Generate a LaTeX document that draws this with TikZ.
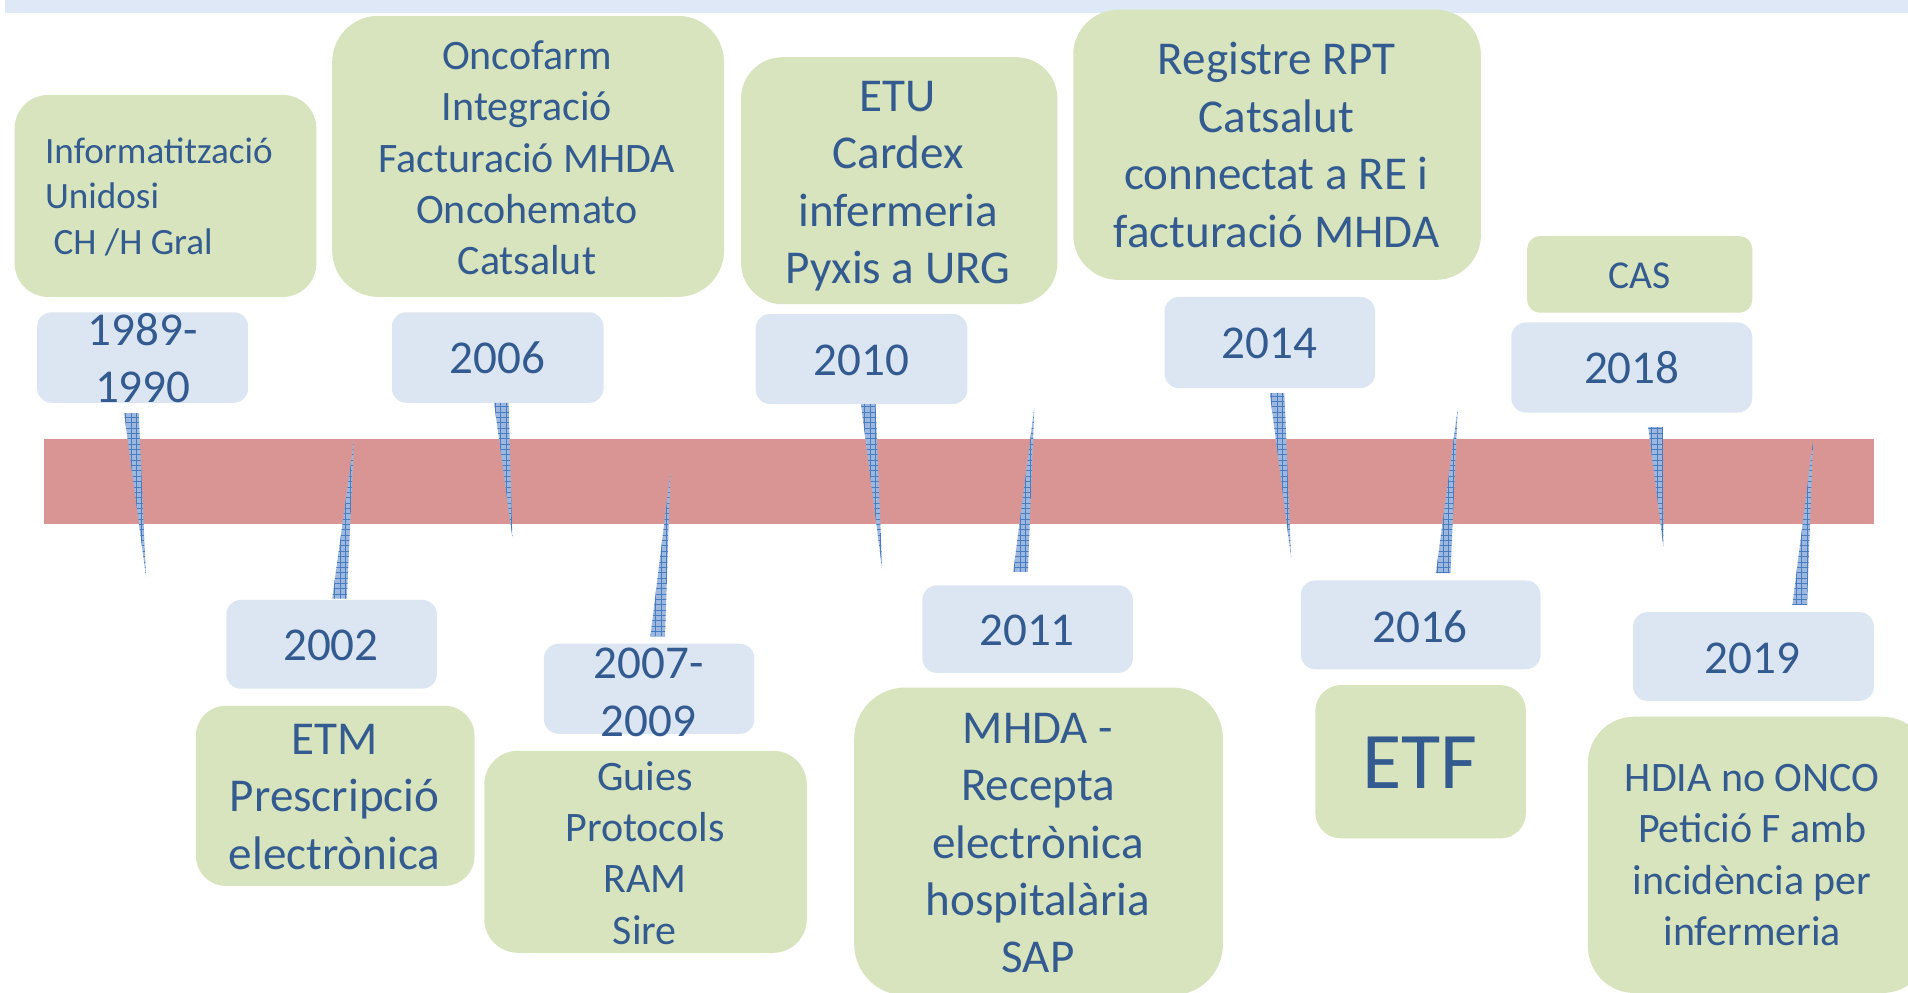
\documentclass[tikz,border=0pt]{standalone}
\usepackage{fontspec}
\setmainfont{Carlito}
\usetikzlibrary{patterns,fit,calc}
\definecolor{gfill}{HTML}{D7E4BD}
\definecolor{bfill}{HTML}{DCE6F2}
\definecolor{barc}{HTML}{D99594}
\definecolor{stripc}{HTML}{DFE8F6}
\definecolor{tcol}{HTML}{335B8F}
\definecolor{wfill}{HTML}{9DB8E0}
\definecolor{wline}{HTML}{4A7DBE}
\pgfdeclarepatternformonly{finegrid}{\pgfqpoint{-0.5pt}{-0.5pt}}{\pgfqpoint{2.5pt}{2.5pt}}{\pgfqpoint{2.2pt}{2.2pt}}{%
  \pgfsetlinewidth{0.35pt}
  \pgfpathmoveto{\pgfqpoint{0pt}{1.1pt}}\pgfpathlineto{\pgfqpoint{2.2pt}{1.1pt}}
  \pgfpathmoveto{\pgfqpoint{1.1pt}{0pt}}\pgfpathlineto{\pgfqpoint{1.1pt}{2.2pt}}
  \pgfusepath{stroke}}
\newcommand\tstr{\rule{0pt}{0.95em}}
\newcommand\fsYear{\fontsize{19.35pt}{23.6pt}\selectfont}
\newcommand\fsBig{\fontsize{19.35pt}{23.6pt}\selectfont}
\newcommand\fsMid{\fontsize{17.25pt}{21.05pt}\selectfont}
\newcommand\fsSmall{\fontsize{15.25pt}{18.6pt}\selectfont}
\newcommand\fsCas{\fontsize{16.25pt}{19.8pt}\selectfont}
\newcommand\fsEtf{\fontsize{33pt}{40pt}\selectfont}
\begin{document}
\begin{tikzpicture}[x=0.5pt,y=-0.5pt,
  gbox/.style={fill=gfill, draw=none, inner sep=0pt},
  bbox/.style={fill=bfill, draw=none, inner sep=0pt, rounded corners=6pt},
  txt/.style={text=tcol, inner sep=0pt, align=center, anchor=north},
  wedge/.style={preaction={fill=wfill}, pattern=finegrid, pattern color=wline}]
\useasboundingbox (0,0) rectangle (1568,816);
\begin{scope}
\clip (0,0) rectangle (1568,816);
% top strip and bar
\node[fill=stripc, inner sep=0pt, fit={(4,0) (1568,10.5)}] (strip) {};
\node[fill=barc, inner sep=0pt, fit={(36,361) (1540,430.6)}] (bar) {};

% green boxes
\node[gbox, rounded corners=13.8pt, fit={(12,78) (260,244)}] (g1) {};
\node[gbox, rounded corners=19pt, fit={(273,13) (595,244)}] (g2) {};
\node[gbox, rounded corners=17pt, fit={(609,47) (869,250)}] (g3) {};
\node[gbox, rounded corners=18.5pt, fit={(882,8) (1217,230)}] (g4) {};
\node[gbox, rounded corners=5.3pt, fit={(1255,194) (1440,257)}] (g5) {};
\node[gbox, rounded corners=12.3pt, fit={(161,580) (390,728)}] (g6) {};
\node[gbox, rounded corners=13.8pt, fit={(398,617) (663,783)}] (g7) {};
\node[gbox, rounded corners=21pt, fit={(702,565) (1005,818)}] (g8) {};
\node[gbox, rounded corners=10.5pt, fit={(1081,563) (1254,689)}] (g9) {};
\node[gbox, rounded corners=19pt, fit={(1305,589) (1585,816)}] (g10) {};

% blue year boxes
\node[bbox, fit={(30.5,256.6) (204,331)}] (b1) {};
\node[bbox, fit={(322,256.6) (496,331)}] (b2) {};
\node[bbox, fit={(621,258) (795,332)}] (b3) {};
\node[bbox, fit={(957,244) (1130,319)}] (b4) {};
\node[bbox, fit={(1242,265) (1440,339)}] (b5) {};
\node[bbox, fit={(186,493) (359,566)}] (b6) {};
\node[bbox, fit={(447,529) (620,603)}] (b7) {};
\node[bbox, fit={(758,481) (931,553)}] (b8) {};
\node[bbox, fit={(1069,477) (1266,550)}] (b9) {};
\node[bbox, fit={(1342,503) (1540,576)}] (b10) {};

% pointers
\foreach \n/\bx/\by/\tx/\ty in {1/108/339.5/120/474, 2/279/492/291/361, 3/412/331/421/441,
  4/540.5/523/551/388, 5/713.5/332/725/468, 6/838.7/470/850/335, 7/1049.5/323/1061/458,
  8/1186/471/1198/335, 9/1360.5/351/1367/449.5, 10/1479/497/1490/362} {
  \coordinate (wb\n) at (\bx,\by);
  \coordinate (wt\n) at (\tx,\ty);
  \path[wedge] ($(wb\n)+(-6,0)$) -- ($(wb\n)+(6,0)$) -- (wt\n) -- cycle;
}

% texts in green boxes
\node[txt, align=left, anchor=north west, font=\fsSmall] (t1) at (36.7,105.1)
  {\tstr Informatització\\Unidosi\\\hspace*{0.23em}CH /H Gral};
\node[txt, font=\fsMid] (t2) at (433,24)
  {\tstr Oncofarm\\Integració\\Facturació MHDA\\Oncohemato\\Catsalut};
\node[txt, font=\fsBig] (t3) at (738,54.3)
  {\tstr ETU\\Cardex\\infermeria\\Pyxis a URG};
\node[txt, font=\fsBig] (t4) at (1049,24.4)
  {\tstr Registre RPT\\Catsalut\\connectat a RE i\\facturació MHDA};
\node[txt, font=\fsCas] (t5) at (1347,205.9) {\tstr CAS};
\node[txt, font=\fsBig] (t6) at (275,582.6)
  {\tstr ETM\\Prescripció\\electrònica};
\node[txt, font=\fsMid] (t7) at (530,616.3)
  {\tstr Guies\\Protocols\\RAM\\Sire};
\node[txt, font=\fsBig] (t8) at (853,573.6)
  {\tstr MHDA -\\Recepta\\electrònica\\hospitalària\\SAP};
\node[txt, font=\fsEtf] (t9) at (1167,585) {\tstr ETF};
\node[txt, font=\fsMid] (t10) at (1440,617.3)
  {\tstr HDIA no ONCO\\Petició F amb\\incidència per\\infermeria};

% year texts
\node[txt, font=\fsYear] (y1) at (117.4,246.4) {\tstr 1989-\\1990};
\node[txt, font=\fsYear] (y2) at (409,270) {\tstr 2006};
\node[txt, font=\fsYear] (y3) at (707.7,271.6) {\tstr 2010};
\node[txt, font=\fsYear] (y4) at (1043,257.4) {\tstr 2014};
\node[txt, font=\fsYear] (y5) at (1341,278.1) {\tstr 2018};
\node[txt, font=\fsYear] (y6) at (272,505.6) {\tstr 2002};
\node[txt, font=\fsYear] (y7) at (533,520.6) {\tstr 2007-\\2009};
\node[txt, font=\fsYear] (y8) at (844,493.6) {\tstr 2011};
\node[txt, font=\fsYear] (y9) at (1167,490.6) {\tstr 2016};
\node[txt, font=\fsYear] (y10) at (1440,516.6) {\tstr 2019};
\end{scope}
\end{tikzpicture}
\end{document}
